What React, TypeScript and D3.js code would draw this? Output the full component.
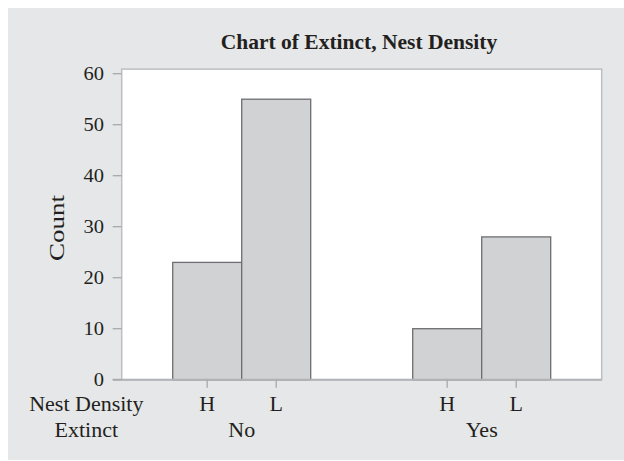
import React from "react";
import * as d3 from "d3";

const groups = ["No", "Yes"];
const densities = ["H", "L"];
const countsNo = [23, 55];
const countsYes = [10, 28];
const yTicks = [0, 10, 20, 30, 40, 50, 60];
const title = "Chart of Extinct, Nest Density";
const rowLabels = ["Nest Density", "Extinct"];

const W = 624;
const H = 461;
const FONT = "'Liberation Serif', 'Times New Roman', serif";
const TEXT = "#231f20";

export default function App() {
  const left = 121.7;
  const right = 601.7;
  const bottom = 379.7;
  const y = d3.scaleLinear().domain([0, 60]).range([bottom, 73.7]);
  const yTop = 60.9;
  const gx = d3
    .scaleBand<string>()
    .domain(groups)
    .range([left, right])
    .paddingInner(0.425)
    .paddingOuter(0.2125);
  const ix = d3
    .scaleBand<string>()
    .domain(densities)
    .range([0, gx.bandwidth()])
    .padding(0);

  const data = [
    { g: "No", vals: countsNo },
    { g: "Yes", vals: countsYes },
  ];

  const sx = 1.1;
  const label = (
    x: number,
    yy: number,
    text: string,
    size = 20,
    anchor: "start" | "middle" | "end" = "middle",
    key?: string
  ) => (
    <text
      key={key}
      transform={`translate(${x},${yy}) scale(${sx},1)`}
      fontFamily={FONT}
      fontSize={size}
      fill={TEXT}
      textAnchor={anchor}
    >
      {text}
    </text>
  );

  return (
    <svg
      width={W}
      height={H}
      style={{ position: "absolute", left: 0, top: 0, display: "block" }}
    >
      <rect x={8} y={8} width={W - 8} height={H - 9} fill="#e6e7e8" />
      <text
        x={359}
        y={48.5}
        fontFamily={FONT}
        fontWeight="bold"
        fontSize={21.5}
        fill={TEXT}
        textAnchor="middle"
      >
        {title}
      </text>
      {/* plot frame */}
      <rect
        x={left}
        y={y(yTop)}
        width={right - left}
        height={bottom - y(yTop)}
        fill="#ffffff"
        stroke="#bcbec0"
        strokeWidth={1.5}
      />
      {/* bars */}
      {data.map((d) =>
        d.vals.map((v, i) => {
          const x0 = (gx(d.g) as number) + (ix(densities[i]) as number);
          return (
            <rect
              key={d.g + i}
              x={x0}
              y={y(v)}
              width={ix.bandwidth()}
              height={bottom - y(v)}
              fill="#d1d2d4"
              stroke="#6d6e71"
              strokeWidth={1.3}
            />
          );
        })
      )}
      {/* x axis baseline */}
      <line
        x1={112.7}
        x2={right}
        y1={bottom}
        y2={bottom}
        stroke="#b1b3b6"
        strokeWidth={2}
      />
      {/* y ticks */}
      {yTicks.map((t) => (
        <g key={t}>
          <line
            x1={112.7}
            x2={left}
            y1={y(t)}
            y2={y(t)}
            stroke="#a7a9ac"
            strokeWidth={1.3}
          />
          <text
            transform={`translate(104,${y(t) + 6.5}) scale(1.08,1)`}
            fontFamily={FONT}
            fontSize={19}
            fill={TEXT}
            textAnchor="end"
          >
            {t}
          </text>
        </g>
      ))}
      {/* x ticks + labels */}
      {groups.map((g) =>
        densities.map((dn) => {
          const cx =
            (gx(g) as number) + (ix(dn) as number) + ix.bandwidth() / 2;
          return (
            <g key={g + dn}>
              <line
                x1={cx}
                x2={cx}
                y1={bottom}
                y2={bottom + 8}
                stroke="#a7a9ac"
                strokeWidth={1.3}
              />
              {label(cx, 410.7, dn)}
            </g>
          );
        })
      )}
      {groups.map((g) =>
        label((gx(g) as number) + gx.bandwidth() / 2, 436.7, g, 20, "middle", "grp" + g)
      )}
      {label(86.3, 410.7, rowLabels[0])}
      {label(86.3, 436.7, rowLabels[1])}
      <text
        transform={`translate(64,228) rotate(-90)`}
        fontFamily={FONT}
        fontSize={21}
        fill={TEXT}
        textAnchor="middle"
        textLength={66}
        lengthAdjust="spacingAndGlyphs"
      >
        Count
      </text>
    </svg>
  );
}
